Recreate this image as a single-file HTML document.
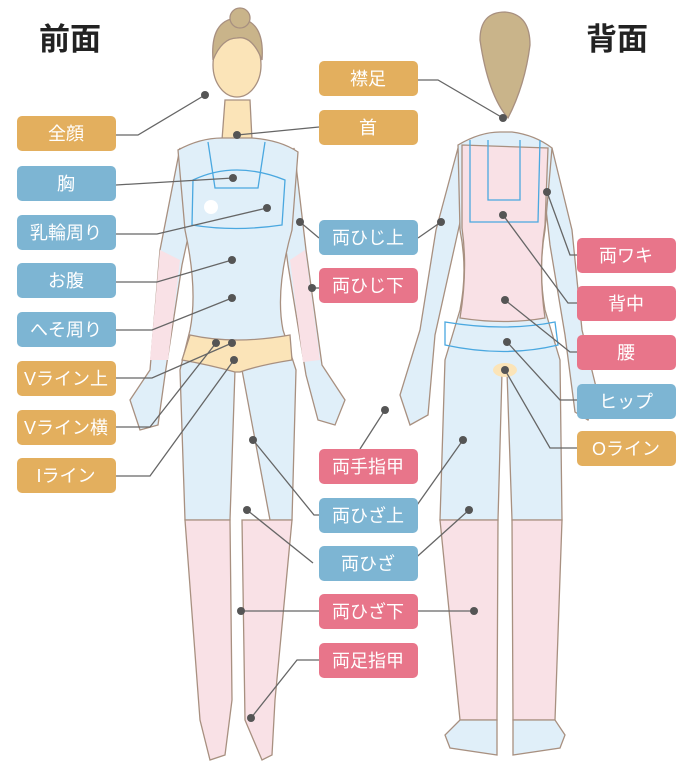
<!DOCTYPE html>
<html><head><meta charset="utf-8"><style>
body{margin:0;background:#fff;}
svg{display:block}
text{font-family:"Liberation Sans","Noto Sans CJK JP",sans-serif;}
.l{fill:#fff;font-size:18px;text-anchor:middle;}
</style></head><body>
<svg width="693" height="772" viewBox="0 0 693 772" xmlns="http://www.w3.org/2000/svg">
<text x="70" y="50" font-size="31" font-weight="bold" fill="#222" text-anchor="middle">前面</text>
<text x="617" y="50" font-size="31" font-weight="bold" fill="#222" text-anchor="middle">背面</text>
<g stroke="#a89080" stroke-width="1.3">
<!-- FRONT arms -->
<path d="M180 148 L160 250 L150 370 L130 400 L140 430 L158 425 L165 375 L182 265 L195 205 Z" fill="#e0eff9"/>
<path d="M160 250 L150 360 L168 360 L180 260 Z" fill="#f9e1e6" stroke="none"/>
<path d="M294 148 L306 250 L322 365 L345 400 L335 425 L318 420 L306 375 L288 265 L280 205 Z" fill="#e0eff9"/>
<path d="M305 250 L320 360 L303 362 L290 260 Z" fill="#f9e1e6" stroke="none"/>
<path d="M225 100 L250 100 L252 140 L222 140 Z" fill="#fbe4b8"/>
<path d="M178 150 Q200 138 222 138 L252 138 Q280 140 298 152 L292 230 Q275 290 283 330 L296 370 L292 520 L270 520 L242 370 L235 370 L230 520 L185 520 L180 370 L190 330 Q198 290 185 230 Z" fill="#e0eff9"/>
<path d="M190 335 Q235 345 290 335 L292 360 Q260 365 240 372 L235 372 Q210 365 182 360 Z" fill="#fbe4b8"/>
<path d="M185 520 L230 520 L232 700 L225 755 L210 760 L200 720 Z M242 520 L292 520 L275 700 L272 755 L262 760 L245 720 Z" fill="#f9e1e6"/>
<path d="M193 180 Q235 160 285 180 L282 225 Q235 232 192 225 Z" fill="none" stroke="#4aa8e0"/>
<path d="M208 142 L215 188 L258 188 L265 142" fill="none" stroke="#4aa8e0"/>
<ellipse cx="237" cy="65" rx="24" ry="32" fill="#fbe4b8"/>
<path d="M213 60 Q210 20 237 18 Q265 20 262 60 Q252 35 237 38 Q222 38 213 60 Z" fill="#c9b48a"/>
<circle cx="240" cy="18" r="10" fill="#c9b48a"/>
<!-- BACK -->
<path d="M458 148 L436 230 L420 330 L400 395 L410 425 L428 415 L435 335 L455 245 L465 200 Z" fill="#e0eff9"/>
<path d="M552 148 L572 230 L582 330 L598 395 L588 420 L575 412 L565 335 L550 245 L545 200 Z" fill="#e0eff9"/>
<path d="M458 145 Q480 132 500 132 L512 132 Q535 135 552 148 L545 230 Q538 270 545 310 L560 360 L562 520 L512 520 L507 372 L502 372 L498 520 L440 520 L445 360 L460 310 Q468 270 460 230 Z" fill="#e0eff9"/>
<path d="M462 145 L548 148 L545 225 Q538 270 545 318 Q505 325 460 318 Q468 270 462 228 Z" fill="#f9e1e6"/>
<path d="M445 322 Q505 332 555 322 L558 345 Q505 358 445 345 Z" fill="none" stroke="#4aa8e0"/>
<path d="M470 140 L470 222 L538 222 L540 140 M488 140 L488 200 L520 200 L520 140" fill="none" stroke="#4aa8e0"/>
<path d="M440 520 L498 520 L497 720 L460 720 Z M512 520 L562 520 L555 720 L513 720 Z" fill="#f9e1e6"/>
<path d="M460 720 L497 720 L497 755 L450 748 L445 735 Z M513 720 L555 720 L565 735 L560 748 L513 755 Z" fill="#e0eff9"/>
<ellipse cx="505" cy="370" rx="12" ry="7" fill="#fbe4b8" stroke="none"/>
<path d="M480 40 Q480 12 505 12 Q530 14 530 45 Q525 85 508 118 Q488 95 480 40 Z" fill="#c9b48a"/>
</g>
<g stroke="#666" stroke-width="1.3" fill="none">
<polyline points="116,135 138,135 205,95"/>
<polyline points="237,135 319,127"/>
<polyline points="116,185 233,178"/>
<polyline points="116,234 157,234 267,208"/>
<polyline points="116,282 157,282 232,260"/>
<polyline points="116,330 152,330 232,298"/>
<polyline points="116,378 152,378 232,343"/>
<polyline points="116,427 150,427 216,343"/>
<polyline points="116,476 150,476 234,360"/>
<polyline points="300,222 319,238"/>
<polyline points="441,222 418,238"/>
<polyline points="312,288 319,288"/>
<polyline points="385,410 360,449"/>
<polyline points="253,440 314,515 319,515"/>
<polyline points="463,440 410,515"/>
<polyline points="247,510 313,563"/>
<polyline points="469,510 410,563"/>
<polyline points="241,611 319,611"/>
<polyline points="418,611 474,611"/>
<polyline points="251,718 297,660 319,660"/>
<polyline points="418,80 438,80 503,118"/>
<polyline points="547,192 570,255 577,255"/>
<polyline points="503,215 568,303 577,303"/>
<polyline points="505,300 570,352 577,352"/>
<polyline points="507,342 560,400 577,400"/>
<polyline points="505,370 550,448 577,448"/>
</g>
<g fill="#555">
<circle cx="205" cy="95" r="4"/><circle cx="237" cy="135" r="4"/><circle cx="233" cy="178" r="4"/>
<circle cx="267" cy="208" r="4"/><circle cx="232" cy="260" r="4"/><circle cx="232" cy="298" r="4"/>
<circle cx="232" cy="343" r="4"/><circle cx="216" cy="343" r="4"/><circle cx="234" cy="360" r="4"/>
<circle cx="300" cy="222" r="4"/><circle cx="441" cy="222" r="4"/><circle cx="312" cy="288" r="4"/>
<circle cx="385" cy="410" r="4"/><circle cx="253" cy="440" r="4"/><circle cx="463" cy="440" r="4"/>
<circle cx="247" cy="510" r="4"/><circle cx="469" cy="510" r="4"/><circle cx="241" cy="611" r="4"/>
<circle cx="474" cy="611" r="4"/><circle cx="251" cy="718" r="4"/><circle cx="503" cy="118" r="4"/>
<circle cx="547" cy="192" r="4"/><circle cx="503" cy="215" r="4"/><circle cx="505" cy="300" r="4"/>
<circle cx="507" cy="342" r="4"/><circle cx="505" cy="370" r="4"/>
</g>
<circle cx="211" cy="207" r="7" fill="#fff"/>
<g>
<rect x="17" y="116" width="99" height="35" rx="5" fill="#e3af5e"/><text class="l" x="66" y="140">全顔</text>
<rect x="17" y="166" width="99" height="35" rx="5" fill="#7db5d3"/><text class="l" x="66" y="190">胸</text>
<rect x="17" y="215" width="99" height="35" rx="5" fill="#7db5d3"/><text class="l" x="66" y="239">乳輪周り</text>
<rect x="17" y="263" width="99" height="35" rx="5" fill="#7db5d3"/><text class="l" x="66" y="287">お腹</text>
<rect x="17" y="312" width="99" height="35" rx="5" fill="#7db5d3"/><text class="l" x="66" y="336">へそ周り</text>
<rect x="17" y="361" width="99" height="35" rx="5" fill="#e3af5e"/><text class="l" x="66" y="385">Vライン上</text>
<rect x="17" y="410" width="99" height="35" rx="5" fill="#e3af5e"/><text class="l" x="66" y="434">Vライン横</text>
<rect x="17" y="458" width="99" height="35" rx="5" fill="#e3af5e"/><text class="l" x="66" y="482">Iライン</text>
<rect x="319" y="61" width="99" height="35" rx="5" fill="#e3af5e"/><text class="l" x="368" y="85">襟足</text>
<rect x="319" y="110" width="99" height="35" rx="5" fill="#e3af5e"/><text class="l" x="368" y="134">首</text>
<rect x="319" y="220" width="99" height="35" rx="5" fill="#7db5d3"/><text class="l" x="368" y="244">両ひじ上</text>
<rect x="319" y="268" width="99" height="35" rx="5" fill="#e8758a"/><text class="l" x="368" y="292">両ひじ下</text>
<rect x="319" y="449" width="99" height="35" rx="5" fill="#e8758a"/><text class="l" x="368" y="473">両手指甲</text>
<rect x="319" y="498" width="99" height="35" rx="5" fill="#7db5d3"/><text class="l" x="368" y="522">両ひざ上</text>
<rect x="319" y="546" width="99" height="35" rx="5" fill="#7db5d3"/><text class="l" x="368" y="570">両ひざ</text>
<rect x="319" y="594" width="99" height="35" rx="5" fill="#e8758a"/><text class="l" x="368" y="618">両ひざ下</text>
<rect x="319" y="643" width="99" height="35" rx="5" fill="#e8758a"/><text class="l" x="368" y="667">両足指甲</text>
<rect x="577" y="238" width="99" height="35" rx="5" fill="#e8758a"/><text class="l" x="626" y="262">両ワキ</text>
<rect x="577" y="286" width="99" height="35" rx="5" fill="#e8758a"/><text class="l" x="626" y="310">背中</text>
<rect x="577" y="335" width="99" height="35" rx="5" fill="#e8758a"/><text class="l" x="626" y="359">腰</text>
<rect x="577" y="384" width="99" height="35" rx="5" fill="#7db5d3"/><text class="l" x="626" y="408">ヒップ</text>
<rect x="577" y="431" width="99" height="35" rx="5" fill="#e3af5e"/><text class="l" x="626" y="455">Oライン</text>
</g>
</svg>
</body></html>
